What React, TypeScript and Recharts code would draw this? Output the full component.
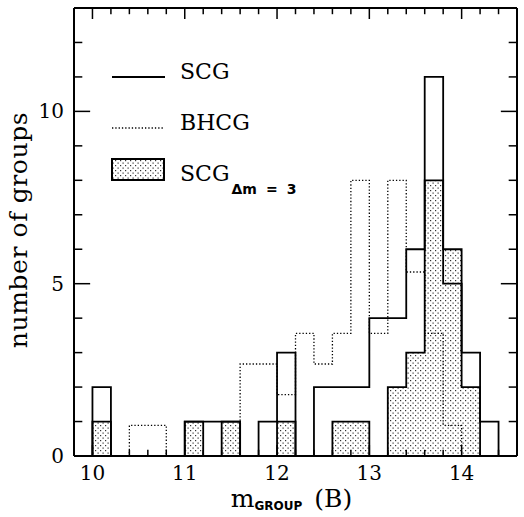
import React from 'react';
import { ComposedChart, Area, Line, XAxis, YAxis, Legend, Label, ReferenceLine } from 'recharts';

// histogram bins (left edges), width 0.2 mag
const binStarts = [10.0, 10.2, 10.4, 10.6, 10.8, 11.0, 11.2, 11.4, 11.6, 11.8, 12.0, 12.2, 12.4, 12.6, 12.8, 13.0, 13.2, 13.4, 13.6, 13.8, 14.0, 14.2];
const lastEdge = 14.4;
const scgCounts = [2, 0, 0, 0, 0, 1, 1, 1, 0, 1, 3, 0, 2, 2, 2, 4, 4, 6, 11, 5, 3, 1];
const bhcgCounts = [0, 0, 0.89, 0.89, 0, 0, 0, 0, 2.67, 2.67, 1.78, 3.56, 2.67, 3.56, 8.0, 3.56, 8.0, 5.34, 3.56, 0.89, 0, 0];
const scgDm3Counts = [1, 0, 0, 0, 0, 1, 0, 1, 0, 0, 1, 0, 0, 1, 1, 0, 2, 3, 8, 6, 2, 0];

const xMin = 9.8;
const xMax = 14.6;
const yMax = 13;
const xTicks = [10.0, 10.2, 10.4, 10.6, 10.8, 11.0, 11.2, 11.4, 11.6, 11.8, 12.0, 12.2, 12.4, 12.6, 12.8, 13.0, 13.2, 13.4, 13.6, 13.8, 14.0, 14.2, 14.4];
const xLabels = [10, 11, 12, 13, 14];
const yTicks = [1, 2, 3, 4, 5, 6, 7, 8, 9, 10, 11, 12];
const yLabels = [0, 5, 10];

const data = [
  { m: binStarts[0], scg: 0, bhcg: 0, dm3: 0 },
  ...binStarts.map((m, i) => ({ m, scg: scgCounts[i], bhcg: bhcgCounts[i], dm3: scgDm3Counts[i] })),
  { m: lastEdge, scg: 0, bhcg: 0, dm3: 0 },
];

// inward tick lengths in data units (~11/6 px vertical, ~16/8 px horizontal)
const xTickLen = (t: number) => (xLabels.includes(t) ? 0.32 : 0.18);
const yTickLen = (v: number) => (yLabels.includes(v) ? 0.175 : 0.09);

const serif = "'DejaVu Serif', serif";
const sans = "'DejaVu Sans', sans-serif";

const BottomLabel = (props: any) => {
  const { x, y, payload } = props;
  if (!xLabels.includes(payload.value)) return <g />;
  return (
    <text x={x} y={y + 24} textAnchor="middle" fontFamily={serif} fontSize={20} fill="#000">
      {payload.value}
    </text>
  );
};

const LeftLabel = (props: any) => {
  const { x, y, payload } = props;
  if (!yLabels.includes(payload.value)) return <g />;
  return (
    <text x={x - 10} y={y + 7} textAnchor="end" fontFamily={serif} fontSize={20} fill="#000">
      {payload.value}
    </text>
  );
};

const XTitle = (props: any) => {
  const { viewBox } = props;
  const cx = viewBox.x + viewBox.width / 2 - 4;
  return (
    <text x={cx} y={viewBox.y + 51} textAnchor="middle" fontFamily={serif} fontSize={25} fill="#000">
      m
      <tspan fontFamily={sans} fontWeight="bold" fontSize={12} dy={3}>GROUP</tspan>
      <tspan dx={12} dy={-3}>(B)</tspan>
    </text>
  );
};

const YTitle = (props: any) => {
  const { viewBox } = props;
  const cx = viewBox.x + 27;
  const cy = viewBox.y + viewBox.height / 2 - 2;
  return (
    <text x={cx} y={cy} transform={`rotate(-90, ${cx}, ${cy})`} textAnchor="middle" fontFamily={serif} fontSize={25} letterSpacing={0.6} fill="#000">
      number of groups
    </text>
  );
};

const LegendBox = () => (
  <svg width={240} height={160} style={{ display: 'block' }}>
    <line x1={12} x2={65} y1={27} y2={27} stroke="#000" strokeWidth={2} />
    <text x={80} y={29} fontFamily={serif} fontSize={22} fill="#000">SCG</text>
    <line x1={12} x2={63} y1={78} y2={78} stroke="#000" strokeWidth={1.3} strokeDasharray="1.3 2" />
    <text x={80} y={80} fontFamily={serif} fontSize={22} fill="#000">BHCG</text>
    <rect x={12} y={109} width={52} height={21} fill="url(#stipple)" stroke="#000" strokeWidth={2} />
    <text x={80} y={131} fontFamily={serif} fontSize={22} fill="#000">
      SCG
      <tspan fontFamily={sans} fontWeight="bold" fontSize={14} dx={2} dy={13}>Δm</tspan>
      <tspan fontFamily={sans} fontWeight="bold" fontSize={14} dx={9}>=</tspan>
      <tspan fontFamily={sans} fontWeight="bold" fontSize={14} dx={9}>3</tspan>
    </text>
  </svg>
);

export default function App() {
  return (
    <div style={{ position: 'absolute', left: 0, top: 0, background: '#fff' }}>
      <ComposedChart width={524} height={517} data={data} margin={{ top: 8, right: 7, bottom: 0, left: 0 }}>
        <defs>
          <pattern id="stipple" width={5} height={5} patternUnits="userSpaceOnUse">
            <rect width={5} height={5} fill="#fff" />
            <rect x={0} y={0} width={1.2} height={1.2} fill="#333" />
            <rect x={2.5} y={2.5} width={1.2} height={1.2} fill="#333" />
          </pattern>
        </defs>
        <XAxis
          dataKey="m"
          type="number"
          domain={[xMin, xMax]}
          allowDataOverflow
          ticks={xLabels}
          interval={0}
          tickSize={0}
          tickMargin={0}
          tickLine={false}
          tick={BottomLabel}
          height={61}
          axisLine={{ stroke: '#000', strokeWidth: 2 }}
        >
          <Label content={XTitle} />
        </XAxis>
        <YAxis
          type="number"
          domain={[0, yMax]}
          allowDataOverflow
          ticks={yLabels}
          interval={0}
          tickSize={0}
          tickMargin={0}
          tickLine={false}
          tick={LeftLabel}
          width={74}
          axisLine={{ stroke: '#000', strokeWidth: 2 }}
        >
          <Label content={YTitle} />
        </YAxis>
        <Legend
          layout="vertical"
          align="center"
          verticalAlign="middle"
          wrapperStyle={{ left: 100, top: 50, width: 240, height: 160 }}
          content={LegendBox}
        />
        {/* frame: top and right sides */}
        <ReferenceLine y={yMax} stroke="#000" strokeWidth={2} />
        <ReferenceLine x={xMax} stroke="#000" strokeWidth={2} />
        {/* inward ticks on all four sides */}
        {xTicks.map((t) => (
          <ReferenceLine key={`b${t}`} ifOverflow="visible" segment={[{ x: t, y: 0 }, { x: t, y: xTickLen(t) }]} stroke="#000" strokeWidth={1.5} />
        ))}
        {xTicks.map((t) => (
          <ReferenceLine key={`t${t}`} ifOverflow="visible" segment={[{ x: t, y: yMax }, { x: t, y: yMax - xTickLen(t) }]} stroke="#000" strokeWidth={1.5} />
        ))}
        {yTicks.map((v) => (
          <ReferenceLine key={`l${v}`} ifOverflow="visible" segment={[{ x: xMin, y: v }, { x: xMin + yTickLen(v), y: v }]} stroke="#000" strokeWidth={1.5} />
        ))}
        {yTicks.map((v) => (
          <ReferenceLine key={`r${v}`} ifOverflow="visible" segment={[{ x: xMax, y: v }, { x: xMax - yTickLen(v), y: v }]} stroke="#000" strokeWidth={1.5} />
        ))}
        <Area
          type="stepAfter"
          dataKey="dm3"
          name="SCG Δm = 3"
          stroke="#000"
          strokeWidth={1.8}
          fill="url(#stipple)"
          fillOpacity={1}
          dot={false}
          activeDot={false}
          isAnimationActive={false}
        />
        <Line
          type="stepAfter"
          dataKey="bhcg"
          name="BHCG"
          stroke="#000"
          strokeWidth={1.3}
          strokeDasharray="1.3 2"
          dot={false}
          activeDot={false}
          isAnimationActive={false}
        />
        <Line
          type="stepAfter"
          dataKey="scg"
          name="SCG"
          stroke="#000"
          strokeWidth={1.8}
          dot={false}
          activeDot={false}
          isAnimationActive={false}
        />
      </ComposedChart>
    </div>
  );
}
